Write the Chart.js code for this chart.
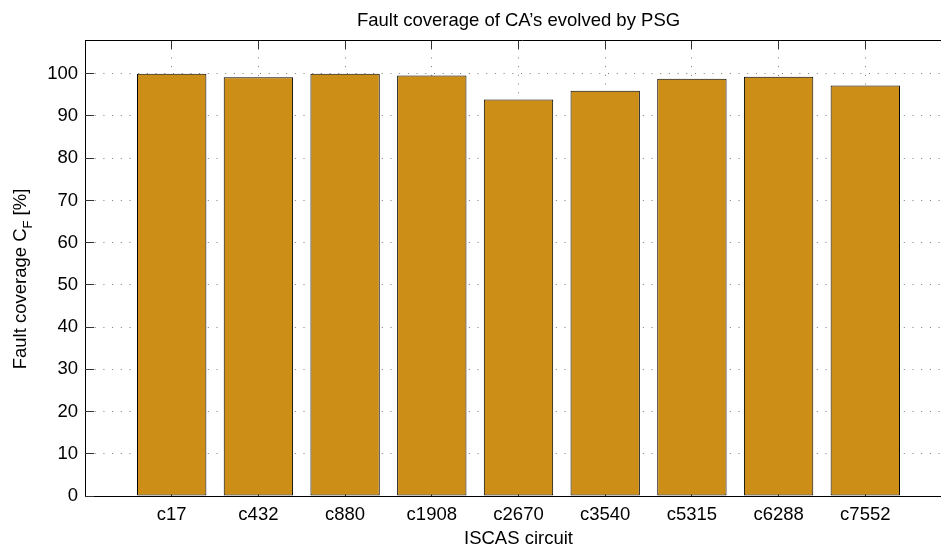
<!DOCTYPE html>
<html><head><meta charset="utf-8">
<script src="https://cdn.jsdelivr.net/npm/chart.js@4.4.0/dist/chart.umd.min.js"></script>
<style>
html,body{margin:0;padding:0;background:#fff;overflow:hidden;width:941px;height:546px}
#wrap{width:960px;height:546px;position:relative}
</style></head>
<body><div id="wrap"><canvas id="c" width="960" height="546"></canvas></div>
<script>
const categories = ['c17','c432','c880','c1908','c2670','c3540','c5315','c6288','c7552'];
const coverage = [100, 99.2, 100, 99.6, 93.9, 96.0, 98.8, 99.3, 97.2];
const yTicks = [0,10,20,30,40,50,60,70,80,90,100];
const yMax = 108;
const chartTitle = 'Fault coverage of CA’s evolved by PSG';
const xTitle = 'ISCAS circuit';
const yTitleParts = ['Fault coverage C', 'F', ' [%]'];

const FONT = '"Liberation Sans", Arial, Helvetica, sans-serif';
const FS = 18.5;
const xLabels = [''].concat(categories, ['']);
const barData = [null].concat(coverage, [null]);
const al = p => Math.round(p - 0.5) + 0.5;

const decor = {
  id: 'decor',
  beforeDatasetsDraw(chart) {
    const {ctx, chartArea: a, scales: {x, y}} = chart;
    const L = 9;
    ctx.save();
    ctx.strokeStyle = '#333';
    ctx.lineWidth = 1;
    ctx.beginPath();
    y.ticks.forEach(t => {
      const py = al(y.getPixelForValue(t.value));
      ctx.moveTo(a.left, py); ctx.lineTo(a.left + L, py);
    });
    for (let i = 1; i <= categories.length; i++) {
      const px = al(x.getPixelForValue(i));
      ctx.moveTo(px, a.top); ctx.lineTo(px, a.top + L);
      ctx.moveTo(px, a.bottom); ctx.lineTo(px, a.bottom - L);
    }
    ctx.stroke();
    ctx.restore();
  },
  afterDraw(chart) {
    const {ctx, chartArea: a} = chart;
    ctx.save();
    ctx.strokeStyle = '#000';
    ctx.lineWidth = 1;
    ctx.beginPath();
    ctx.moveTo(a.left, al(a.top)); ctx.lineTo(chart.width, al(a.top));
    ctx.stroke();
    ctx.fillStyle = '#000';
    ctx.font = FS + 'px ' + FONT;
    ctx.textAlign = 'center';
    ctx.textBaseline = 'alphabetic';
    const cx = (a.left + a.right) / 2;
    ctx.fillText(chartTitle, cx, 26);
    ctx.fillText(xTitle, cx, 544);
    // y title with subscript
    const main = FS + 'px ' + FONT, sub = '13px ' + FONT;
    ctx.font = main;
    const w1 = ctx.measureText(yTitleParts[0]).width;
    const w3 = ctx.measureText(yTitleParts[2]).width;
    ctx.font = sub;
    const w2 = ctx.measureText(yTitleParts[1]).width;
    const total = w1 + w2 + w3;
    ctx.translate(25.5, 279);
    ctx.rotate(-Math.PI / 2);
    ctx.textAlign = 'left';
    const x0 = -total / 2;
    ctx.font = main; ctx.fillText(yTitleParts[0], x0, 0);
    ctx.font = sub; ctx.fillText(yTitleParts[1], x0 + w1, 6);
    ctx.font = main; ctx.fillText(yTitleParts[2], x0 + w1 + w2, 0);
    ctx.restore();
  }
};

new Chart(document.getElementById('c'), {
  type: 'bar',
  data: {
    labels: xLabels,
    datasets: [{
      data: barData,
      backgroundColor: '#cc8e16',
      borderColor: '#000',
      borderWidth: 1,
      borderSkipped: false,
      barPercentage: 0.8,
      categoryPercentage: 1
    }]
  },
  options: {
    responsive: false,
    devicePixelRatio: 1,
    animation: false,
    layout: {padding: {top: 40, right: 7, left: 0, bottom: 0}},
    plugins: {legend: {display: false}, tooltip: {enabled: false}, title: {display: false}},
    scales: {
      x: {
        type: 'category',
        offset: false,
        grid: {offset: false, color: '#7a7a7a', lineWidth: 1, drawTicks: false},
        border: {display: true, color: '#000', width: 1, dash: [1, 7.7]},
        ticks: {font: {family: FONT, size: FS}, color: '#000', padding: 8, maxRotation: 0, autoSkip: false},
        afterFit: s => { s.height = 50; }
      },
      y: {
        min: 0, max: yMax,
        afterBuildTicks: s => { s.ticks = yTicks.map(v => ({value: v})); },
        grid: {color: '#7a7a7a', lineWidth: 1, drawTicks: false},
        border: {display: true, color: '#000', width: 1, dash: [1, 7.7]},
        ticks: {font: {family: FONT, size: FS}, color: '#000', padding: 7},
        afterFit: s => { s.width = 85; }
      }
    }
  },
  plugins: [decor]
});
</script>
</body></html>
